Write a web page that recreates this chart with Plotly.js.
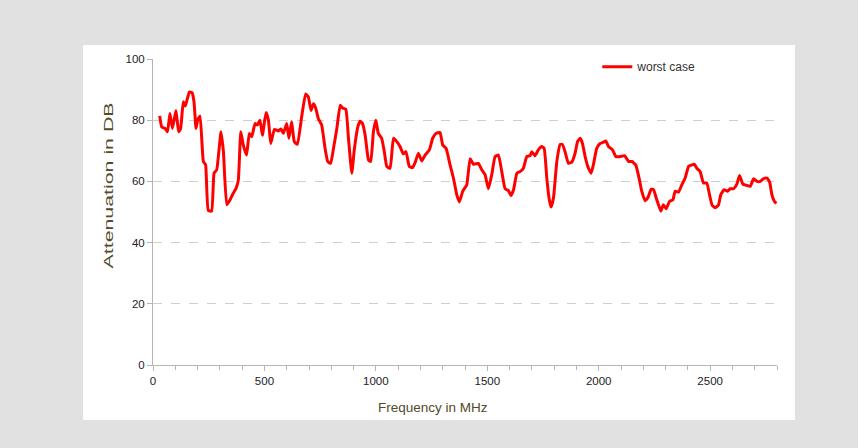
<!DOCTYPE html>
<html>
<head>
<meta charset="utf-8">
<script src="https://cdn.plot.ly/plotly-3.0.1.min.js"></script>
<style>
  html, body { margin: 0; padding: 0; background: #e1e1e1; width: 858px; height: 448px; overflow: hidden; }
  #panel { position: absolute; left: 83px; top: 45px; width: 712px; height: 375px; background: #ffffff; }
  #chart { position: absolute; left: 0; top: 0; width: 858px; height: 448px; }
</style>
</head>
<body>
<div id="panel"></div>
<div id="chart"></div>
<script>
const seriesName = "worst case";
const freqMHz = [30,39,54,65,76,87,103,115,124,136,145,154,163,175,184,193,200,211,226,236,248,263,274,286,305,316,331,346,357,373,383,394,405,420,432,443,458,468,480,491,507,518,528,545,562,574,585,600,610,622,634,648,667,685,697,709,720,730,742,757,772,784,797,810,825,840,850,865,877,892,904,919,929,940,952,967,977,989,1000,1011,1026,1038,1049,1064,1079,1094,1109,1123,1135,1150,1165,1177,1191,1206,1221,1240,1255,1270,1288,1300,1315,1333,1348,1363,1375,1390,1408,1423,1438,1460,1475,1490,1505,1520,1535,1550,1565,1580,1595,1606,1618,1633,1647,1662,1677,1692,1700,1714,1729,1744,1755,1767,1777,1786,1797,1812,1827,1837,1849,1864,1879,1894,1905,1917,1927,1939,1954,1966,1976,1991,2006,2021,2032,2044,2062,2077,2096,2116,2134,2149,2166,2181,2193,2208,2220,2235,2246,2258,2268,2279,2290,2303,2318,2333,2343,2358,2373,2388,2403,2418,2429,2440,2455,2470,2485,2497,2509,2522,2537,2548,2563,2578,2590,2605,2620,2632,2647,2665,2680,2695,2710,2725,2740,2755,2767,2777,2788,2797];
const attenuationDB = [81.4,77.8,77.3,76.2,82.2,77.3,83.2,76.2,77.3,86,84.6,87,89.2,89,86,77.3,80,81.4,66.5,65.4,50.5,50.3,62.7,63.8,76.2,69.7,52.4,54,55.7,57.8,60.5,76.2,71.9,68.6,75.7,74.6,78.9,78.4,80,75.1,82.5,80,72.4,77,76.5,77.1,75.7,78.9,74.1,79.5,73,72.1,81.1,88.6,87.6,83.2,85.4,84,80.5,78.4,70.8,66.5,65.9,70.8,77.3,84.9,84,83.6,74.1,62.7,70.8,77.8,79.7,78.9,75.1,67,66.5,76.2,80,75.7,74.1,69.7,64.9,64.3,74.1,73,71.3,69,69.7,64.9,64.5,66.3,69.2,66.7,68.6,70.3,74.1,75.7,76,71.9,70.8,65.4,61.1,55.7,53.3,56.8,58.9,67.4,65.6,65.9,63.8,62.2,57.6,62.2,68.1,68.6,63.2,57.6,57,55.4,57.3,62.7,63.2,64.3,68.1,68.4,69.7,68.4,70.3,71.4,70.8,61.1,54.6,51.6,54.6,66.5,72.1,72.1,69.7,65.9,66.3,69.2,73,74.1,72.4,68.1,64.3,62.7,65.4,70.8,72.4,72.8,73.2,71.4,70.3,68.1,68.1,68.4,66.5,66.5,65.4,61.1,56.8,53.7,54.6,57.4,57.3,54.6,52.4,50.3,52.4,51.1,53.5,54,56.8,56.5,58.9,61.1,64.9,65.4,65.6,64.3,63.2,59.5,59.5,55.7,52.2,51.4,52.2,55.7,57.3,56.8,57.6,57.6,59.1,61.9,59.1,58.7,58.4,60.9,60,60,60.9,61.1,59.8,55.7,53.5,52.8];
const xTickVals = [0,500,1000,1500,2000,2500];
const yTickVals = [0,20,40,60,80,100];
const xTitle = "Frequency in MHz";
const yTitle = "Attenuation in DB";

const trace = {
  x: freqMHz, y: attenuationDB, type: 'scatter', mode: 'lines', name: seriesName,
  line: {color: '#ff0000', width: 3, shape: 'spline', smoothing: 0.4}
};

const layout = {
  width: 858, height: 448,
  margin: {l: 153, r: 81, t: 59, b: 83},
  paper_bgcolor: 'rgba(0,0,0,0)', plot_bgcolor: 'rgba(0,0,0,0)',
  font: {family: '"Liberation Sans", Arial, sans-serif', size: 11, color: '#222'},
  showlegend: true,
  legend: {x: 0.712, y: 0.975, xanchor: 'left', yanchor: 'middle', bgcolor: 'rgba(0,0,0,0)',
           font: {size: 12, color: '#333'}},
  xaxis: {
    range: [0, 2800], tickmode: 'array', tickvals: xTickVals, showgrid: false, zeroline: false,
    showline: true, linecolor: '#b5b5b5', linewidth: 1,
    ticks: 'outside', ticklen: 5, tickcolor: '#b5b5b5',
    minor: {dtick: 100, tick0: 0, ticks: 'outside', ticklen: 4, tickcolor: '#b5b5b5', showgrid: false},
    tickfont: {size: 11.5, color: '#222'}
  },
  yaxis: {
    range: [0, 100], tickmode: 'array', tickvals: yTickVals, zeroline: false,
    showline: true, linecolor: '#b5b5b5', linewidth: 1,
    ticks: 'outside', ticklen: 5, tickcolor: '#b5b5b5',
    showgrid: true, gridcolor: '#cfcfcf', griddash: 'dash', gridwidth: 1,
    tickfont: {size: 11.5, color: '#222'}
  },
  shapes: [
    {type: 'rect', xref: 'paper', yref: 'paper', x0: 0.572, x1: 1.0, y0: 0.93, y1: 1.03,
     fillcolor: '#ffffff', line: {width: 0}, layer: 'above'}
  ],
  annotations: [
    {text: xTitle, xref: 'paper', yref: 'paper', x: (433-153)/624, y: -42/306, xanchor: 'center', yanchor: 'middle',
     showarrow: false, font: {size: 13.5, color: '#524a2c'}},
    {text: yTitle, xref: 'paper', yref: 'paper', x: (108-153)/624, y: (365-186)/306, xanchor: 'center', yanchor: 'middle',
     textangle: -90, showarrow: false, font: {size: 13.5, color: '#524a2c'}}
  ]
};

Plotly.newPlot('chart', [trace], layout, {displayModeBar: false, staticPlot: true}).then(function (gd) {
  const texts = gd.querySelectorAll('.annotation-text');
  texts.forEach(function (t) {
    if (t.textContent === yTitle) {
      t.setAttribute('textLength', '166');
      t.setAttribute('lengthAdjust', 'spacingAndGlyphs');
    }
  });
});
</script>
</body>
</html>
